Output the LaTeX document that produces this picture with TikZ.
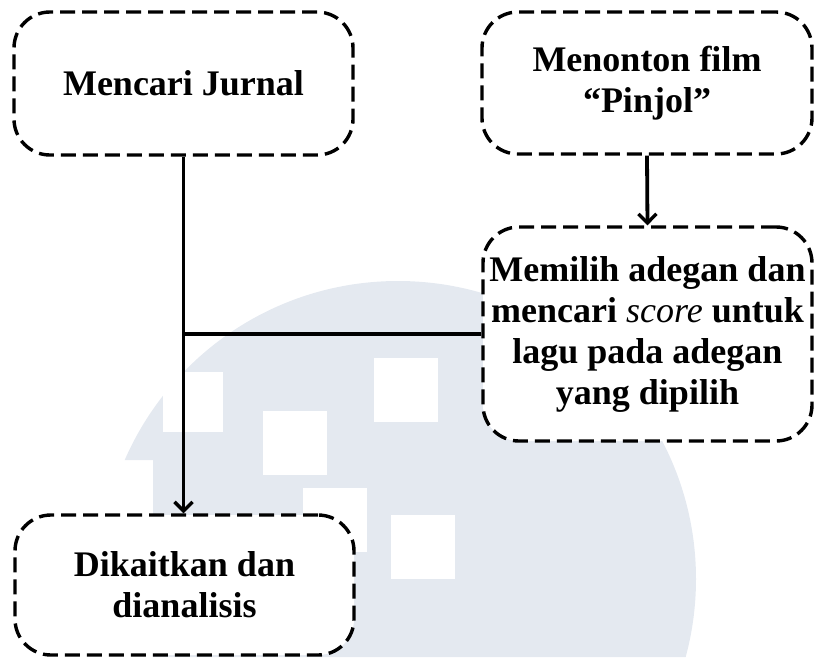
\documentclass[tikz,border=0pt]{standalone}
\usepackage{fontspec}
\setmainfont{Liberation Serif}
\usetikzlibrary{arrows.meta}
\definecolor{wmgrey}{RGB}{228,233,240}
\tikzset{
  stepbox/.style={draw=black, line width=3.4pt, dash pattern=on 15pt off 7pt, rounded corners=36pt,
    fill=white, align=center, inner sep=0pt,
    font=\fontsize{36}{41}\selectfont\bfseries},
  conn/.style={line width=3.8pt, draw=black},
  tip/.style={-{Straight Barb[length=9pt,width=18pt,line width=3.4pt]}}
}
\begin{document}
\begin{tikzpicture}[x=1pt,y=-1pt]
\useasboundingbox (0,0) rectangle (815,657);
% watermark
\begin{scope}
  \clip (0,0) -- (815,0) -- (815,657) -- (153,657) -- (153,460) -- (0,460) -- cycle;
  \fill[wmgrey] (398,579) circle[radius=298];
\end{scope}
\fill[white] (163,372) rectangle (223,432);
\fill[white] (263,411) rectangle (327,475);
\fill[white] (374,358) rectangle (438,422);
\fill[white] (303,488) rectangle (367,552);
\fill[white] (391,515) rectangle (455,579);
% boxes
\node[stepbox, minimum width=339pt, minimum height=143pt] (b1) at (183.5,83.5) {Mencari Jurnal};
\node[stepbox, minimum width=330pt, minimum height=142pt] (b2) at (647,83) {Menonton film\\“Pinjol”};
\node[stepbox, minimum width=329pt, minimum height=214pt] (b3) at (647.5,334) {Memilih adegan dan\\mencari {\mdseries\itshape score} untuk\\lagu pada adegan\\yang dipilih};
\node[stepbox, minimum width=339pt, minimum height=140pt] (b4) at (184.5,585) {Dikaitkan dan\\dianalisis};
% connectors
\draw[conn, tip] (b1.south) -- (b1.south |- b4.north);
\draw[conn] (b3.west) -- (b3.west -| b1.south);
\draw[conn, tip] (b2.south) -- (b3.north);
\end{tikzpicture}
\end{document}
